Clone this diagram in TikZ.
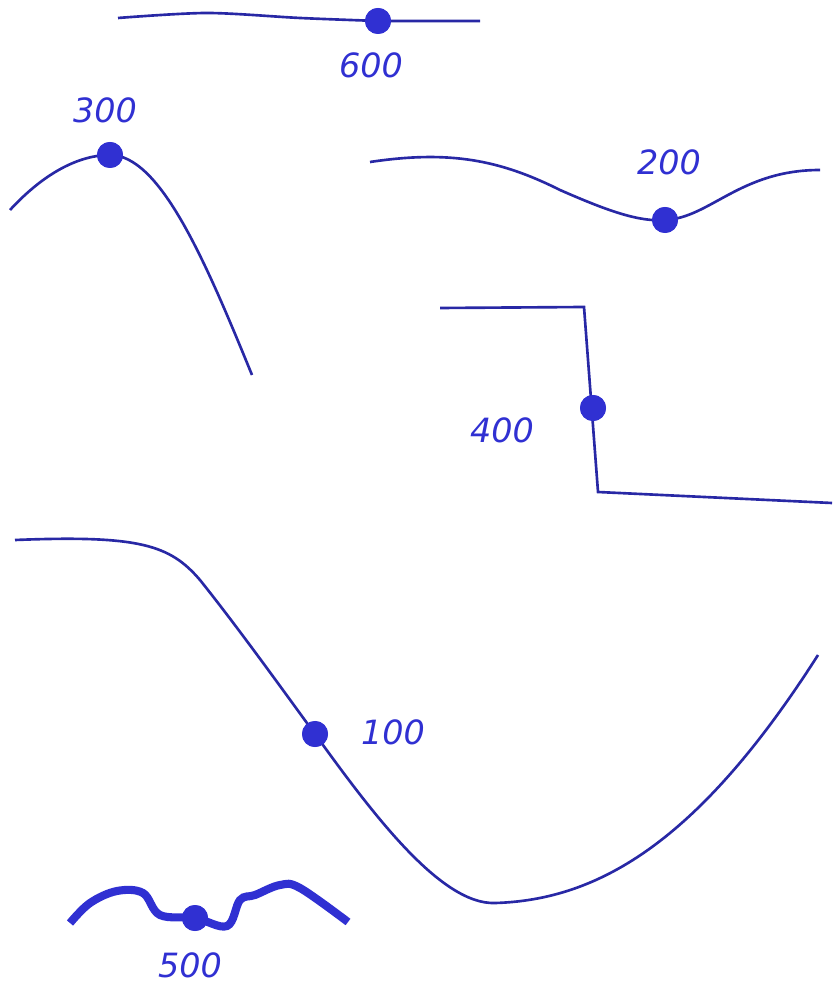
\documentclass[tikz,border=0pt]{standalone}
\usepackage{fontspec}
\setmainfont{DejaVu Sans}
\usepackage{tikz}
\usetikzlibrary{positioning}
\definecolor{inkline}{RGB}{40,40,165}
\definecolor{inkdot}{RGB}{48,48,210}

\begin{document}
\begin{tikzpicture}[x=0.01cm, y=-0.01cm,
    contour/.style={draw=inkline, line width=0.75pt},
    thickcontour/.style={draw=inkdot, line width=2.3pt},
    dot/.style={circle, fill=inkdot, inner sep=0pt, minimum size=0.26cm},
    lbl/.style={text=inkdot, font=\fontsize{9.5}{11}\selectfont\itshape, inner sep=0pt}]
    \useasboundingbox (0,0) rectangle (832,983);
    % Dots
    \node [dot] (d600) at (378,21) {};
    \node [dot] (d300) at (110,155) {};
    \node [dot] (d200) at (665,220) {};
    \node [dot] (d400) at (593,408) {};
    \node [dot] (d100) at (315,734) {};
    \node [dot] (d500) at (195,918) {};
    % Curves
    \draw [contour] plot [smooth, tension=0.5] coordinates {(118,18) (207,13) (300,18) (378,21)} -- (480,21);
    \draw [contour] (10,210) .. controls (45,172) and (80,155) .. (d300.center)
        .. controls (160,155) and (205,260) .. (252,375);
    \draw [contour] (370,162) .. controls (450,150) and (500,160) .. (560,190)
        .. controls (610,212) and (640,222) .. (d200.center)
        .. controls (710,218) and (740,170) .. (820,170);
    \draw [contour] (440,308) -- (584,307) -- (598,492) -- (832,503);
    \draw [contour] (15,540) .. controls (140,535) and (170,545) .. (200,580)
        .. controls (240,630) and (290,700) .. (d100.center)
        .. controls (370,810) and (440,905) .. (495,903)
        .. controls (600,900) and (700,840) .. (818,655);
    \draw [thickcontour] plot [smooth, tension=0.6] coordinates {(70,923) (90,903) (117,891) (143,893) (160,915) (195,918) (227,926) (240,900) (255,895) (280,885) (300,888) (348,922)};
    % Dots on top
    \foreach \d in {d600,d300,d200,d400,d100,d500}
        \fill [inkdot] (\d) circle (0.13cm);
    % Labels
    \node [lbl] (l600) at (371,65) {600};
    \node [lbl] (l300) at (105,110) {300};
    \node [lbl] (l200) at (669,162) {200};
    \node [lbl] (l400) at (502,430) {400};
    \node [lbl] (l100) at (393,732) {100};
    \node [lbl] (l500) at (190,965) {500};
\end{tikzpicture}
\end{document}
